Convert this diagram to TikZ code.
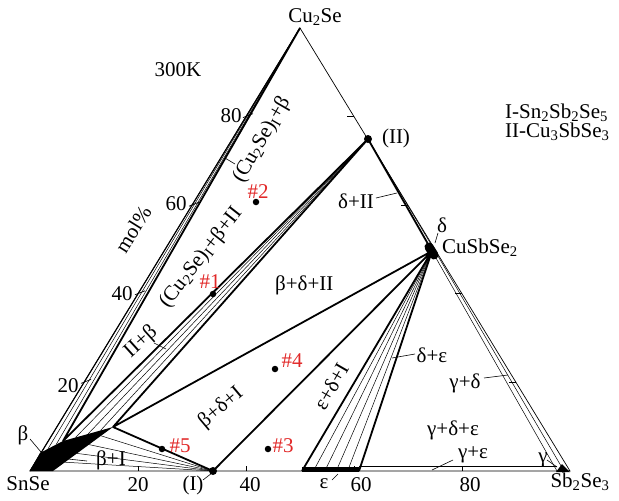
\documentclass[tikz,border=0pt]{standalone}
\usepackage{fontspec}
\setmainfont{Liberation Serif}
\usetikzlibrary{calc}
\definecolor{numred}{RGB}{225,40,40}
\newcommand{\lo}[1]{\textsubscript{#1}}
\begin{document}
\begin{tikzpicture}[x=1pt,y=-1pt,
    edgeline/.style={line width=0.7pt},
    bound/.style={line width=1.8pt,line join=round},
    tieline/.style={line width=0.5pt},
    lead/.style={line width=0.6pt},
    lbl/.style={font=\fontsize{21}{25}\selectfont,inner sep=0pt},
    num/.style={lbl,text=numred},
    spot/.style={circle,fill,inner sep=0pt,minimum size=6.5pt},
    invariant/.style={spot,minimum size=8pt}]
\useasboundingbox (0,0) rectangle (619,501);
\coordinate (SnSe) at (30,471);
\coordinate (SbSe) at (570,471);
\coordinate (CuSe) at (300,28);
\coordinate (I) at (213,471);
\coordinate (II) at (368,139);
\coordinate (D) at (432,251);
\coordinate (bL) at (40,453);
\coordinate (bT) at (63,441);
\coordinate (bR) at (113,427);
\coordinate (bB) at (53,471);
\coordinate (e1) at (302,471);
\coordinate (e2) at (359,471);
\coordinate (g) at (557,471);
% phases
\fill (SnSe) -- (bL) -- (bT) -- (bR) -- (bB) -- cycle;
\fill (302,466.5) rectangle (359,472);
\fill (556,472) -- (570,472) -- (562,464) -- cycle;
\draw[line width=9pt,line cap=round] (429,247) -- (434,255);
% tie lines
\foreach \t in {0.35,0.7}
  \draw[tieline] (CuSe) -- ($(bL)!\t!(bT)$);
\foreach \t in {0.25,0.5,0.75}
  \draw[tieline] (II) -- ($(bT)!\t!(bR)$);
\foreach \t in {0.2,0.4,0.6,0.8}{
  \draw[tieline] (I) -- ($(bR)!\t!(bB)$);
  \draw[tieline] (D) -- ($(e1)!\t!(e2)$);
}
\draw[tieline] (II) -- (435,251);
\draw[tieline] (D) -- (g) (435,251) -- (564,471);
\draw[tieline] (359,466.5) -- (557,466.5);
\draw[bound] (CuSe) -- (bT) -- (II) -- (bR) -- (D) -- (II)
  (bR) -- (I) -- (D) -- (e1) (D) -- (e2);
% triangle
\draw[edgeline] (SnSe) -- (SbSe) -- (CuSe) -- cycle;
\draw[line width=1.1pt] (SnSe) -- (CuSe);
\foreach \t in {0.2,0.4,0.6,0.8}{
  \draw[edgeline] ($(SnSe)!\t!(SbSe)$) -- ++(0,-5);
  \draw[edgeline] ($(SnSe)!\t!(CuSe)$) ++(-3,1) -- ++(10,-4);
  \draw[edgeline] ($(SbSe)!\t!(CuSe)$) -- ++(-7,0);
}
\node[invariant] (pI) at (I) {};
\node[invariant] (pII) at (II) {};
% samples
\node[spot] (s1) at (213,294) {};
\node[spot] (s2) at (256,202) {};
\node[spot] (s3) at (268,449) {};
\node[spot] (s4) at (275,369) {};
\node[spot] (s5) at (162,449) {};
\node[num,anchor=base] (n1) at (210,288) {\#1};
\node[num,anchor=base] (n2) at (258,198) {\#2};
\node[num,anchor=base] (n3) at (283,452) {\#3};
\node[num,anchor=base] (n4) at (292,367) {\#4};
\node[num,anchor=base] (n5) at (180,452) {\#5};
% labels
\node[lbl,anchor=base] (tCu) at (315,22) {Cu\lo{2}Se};
\node[lbl,anchor=base] (tT) at (178,76) {300K};
\node[lbl,anchor=base west] (tI) at (505,118) {I-Sn\lo{2}Sb\lo{2}Se\lo{5}};
\node[lbl,anchor=base west] (tII) at (505,137) {II-Cu\lo{3}SbSe\lo{3}};
\node[lbl,anchor=base] (lII) at (396,143) {(II)};
\node[lbl,anchor=base] (ldelta) at (442,232) {δ};
\node[lbl,anchor=base west] (lD) at (442,253) {CuSbSe\lo{2}};
\node[lbl,anchor=base] (ldII) at (356,208) {δ+II};
\node[lbl,rotate=60] (lCuB) at (262,140) {(Cu\lo{2}Se)\lo{I}+β};
\node[lbl,rotate=52] (lCuBII) at (201,258) {(Cu\lo{2}Se)\lo{I}+β+II};
\node[lbl,anchor=base west] (lBDII) at (275,290) {β+δ+II};
\node[lbl,rotate=42] (lIIB) at (141,342) {II+β};
\node[lbl,rotate=58] (lmol) at (133,229) {mol\%};
\node[lbl,rotate=40] (lBDI) at (221,408) {β+δ+I};
\node[lbl,rotate=60] (lEDI) at (331,386) {ε+δ+I};
\node[lbl,anchor=base] (lDE) at (432,362) {δ+ε};
\node[lbl,anchor=base] (lGD) at (465,388) {γ+δ};
\node[lbl,anchor=base] (lGDE) at (453,435) {γ+δ+ε};
\node[lbl,anchor=base] (lGE) at (473,458) {γ+ε};
\node[lbl,anchor=base] (lG) at (543,462) {γ};
\node[lbl,anchor=base] (lB) at (23,440) {β};
\node[lbl,anchor=base] (lBI) at (111,465) {β+I};
\node[lbl,anchor=base] (tSnSe) at (28,490) {SnSe};
\node[lbl,anchor=base] (tSb) at (580,487) {Sb\lo{2}Se\lo{3}};
\node[lbl,anchor=base] (lI) at (193,490) {(I)};
\node[lbl,anchor=base] (leps) at (324,488) {ε};
\foreach \v/\x in {20/138,40/250,60/361,80/470}
  \node[lbl,anchor=base] (b\v) at (\x,491) {\v};
\foreach \v/\x/\y in {20/68/392,40/122/300,60/176/210,80/231/122}
  \node[lbl,anchor=base] (l\v) at (\x,\y) {\v};
% leaders
\draw[lead] (438,233) -- (435,243);
\draw[lead] (376,198) -- (397,193);
\draw[lead] (235,164) -- (225,158);
\draw[lead] (154,343) -- (166,349);
\draw[lead] (415,354) -- (392,358);
\draw[lead] (484,378) -- (508,375);
\draw[lead] (453,460) -- (432,470);
\draw[lead] (547,460) -- (557,467);
\draw[lead] (30,439) -- (41,452);
\draw[lead] (87,461) -- (68,459);
\draw[lead] (203,480) -- (212,473);
\draw[lead] (332,480) -- (338,474);
\end{tikzpicture}
\end{document}
